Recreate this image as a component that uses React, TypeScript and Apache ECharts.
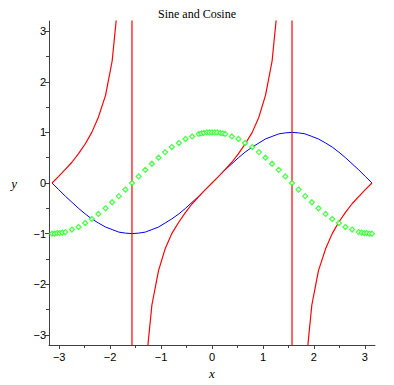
import React, { useEffect, useRef } from "react";
import * as echarts from "echarts";

const TITLE = "Sine and Cosine";

// shared sample positions (radians)
const xGrid = [
  -3.14, -3.01, -2.88, -2.75, -2.62, -2.49, -2.36, -2.23, -2.09, -1.96, -1.83, -1.70,
  -1.57, -1.44, -1.31, -1.18, -1.05, -0.92, -0.79, -0.65, -0.52, -0.39, -0.26, -0.13,
  0, 0.13, 0.26, 0.39, 0.52, 0.65, 0.79, 0.92, 1.05, 1.18, 1.31, 1.44,
  1.57, 1.70, 1.83, 1.96, 2.09, 2.23, 2.36, 2.49, 2.62, 2.75, 2.88, 3.01, 3.14,
];

// blue curve (sine)
const sineY = [
  0, -0.13, -0.26, -0.38, -0.5, -0.61, -0.71, -0.79, -0.87, -0.92, -0.97, -0.99,
  -1.0, -0.99, -0.97, -0.92, -0.87, -0.79, -0.71, -0.61, -0.5, -0.38, -0.26, -0.13,
  0, 0.13, 0.26, 0.38, 0.5, 0.61, 0.71, 0.79, 0.87, 0.92, 0.97, 0.99,
  1.0, 0.99, 0.97, 0.92, 0.87, 0.79, 0.71, 0.61, 0.5, 0.38, 0.26, 0.13, 0,
];

// red curve (tangent), including the jumps across the asymptotes
const tanX = [
  -3.14, -3.01, -2.88, -2.75, -2.62, -2.49, -2.36, -2.23, -2.09, -1.96, -1.83, -1.70, -1.575,
  -1.567, -1.44, -1.31, -1.18, -1.05, -0.92, -0.79, -0.65, -0.52, -0.39, -0.26, -0.13,
  0, 0.13, 0.26, 0.39, 0.52, 0.65, 0.79, 0.92, 1.05, 1.18, 1.31, 1.44, 1.567,
  1.575, 1.70, 1.83, 1.96, 2.09, 2.23, 2.36, 2.49, 2.62, 2.75, 2.88, 3.01, 3.14,
];
const tanY = [
  0, 0.13, 0.27, 0.41, 0.58, 0.77, 1.0, 1.3, 1.73, 2.41, 3.73, 7.6, 250,
  -250, -7.6, -3.73, -2.41, -1.73, -1.3, -1.0, -0.77, -0.58, -0.41, -0.27, -0.13,
  0, 0.13, 0.27, 0.41, 0.58, 0.77, 1.0, 1.3, 1.73, 2.41, 3.73, 7.6, 250,
  -250, -7.6, -3.73, -2.41, -1.73, -1.3, -1.0, -0.77, -0.58, -0.41, -0.27, -0.13, 0,
];

// green points (cosine)
const cosX = [
  -3.14, -3.09, -3.04, -2.99, -2.94, -2.88, -2.75, -2.62, -2.49, -2.36, -2.23, -2.09,
  -1.96, -1.83, -1.70, -1.57, -1.44, -1.31, -1.18, -1.05, -0.92, -0.79, -0.65, -0.52,
  -0.39, -0.26, -0.21, -0.16, -0.10, -0.05, 0, 0.05, 0.10, 0.16, 0.21, 0.26,
  0.39, 0.52, 0.65, 0.79, 0.92, 1.05, 1.18, 1.31, 1.44, 1.57, 1.70, 1.83,
  1.96, 2.09, 2.23, 2.36, 2.49, 2.62, 2.75, 2.88, 2.94, 2.99, 3.04, 3.09, 3.14,
];
const cosY = [
  -1.0, -1.0, -0.99, -0.99, -0.98, -0.97, -0.92, -0.87, -0.79, -0.71, -0.61, -0.5,
  -0.38, -0.26, -0.13, 0, 0.13, 0.26, 0.38, 0.5, 0.61, 0.71, 0.79, 0.87,
  0.92, 0.97, 0.98, 0.99, 1.0, 1.0, 1.0, 1.0, 1.0, 0.99, 0.98, 0.97,
  0.92, 0.87, 0.79, 0.71, 0.61, 0.5, 0.38, 0.26, 0.13, 0, -0.13, -0.26,
  -0.38, -0.5, -0.61, -0.71, -0.79, -0.87, -0.92, -0.97, -0.98, -0.99, -0.99, -1.0, -1.0,
];

const xTicks = [-3, -2, -1, 0, 1, 2, 3];
const yTicks = [-3, -2, -1, 0, 1, 2, 3];
const minorTicks = [-2.5, -1.5, -0.5, 0.5, 1.5, 2.5];

const fmt = (v: number) => (v < 0 ? "\u2212" + Math.abs(v) : String(v));

export default function App() {
  const ref = useRef<HTMLDivElement>(null);
  useEffect(() => {
    document.body.style.margin = "0";
    const chart = echarts.init(ref.current!, null, { renderer: "svg" });
    const axisColor = "#404040";
    const labelStyle = {
      fontFamily: "Liberation Sans",
      fontSize: 11,
      color: "#000",
    };
    const nameStyle = {
      fontFamily: "Liberation Serif",
      fontStyle: "italic" as const,
      fontSize: 13,
      color: "#000",
    };
    const baseX = {
      type: "value" as const,
      min: -3.2,
      max: 3.2,
      position: "bottom" as const,
      splitLine: { show: false },
    };
    const baseY = {
      type: "value" as const,
      min: -3.2,
      max: 3.2,
      position: "left" as const,
      splitLine: { show: false },
    };
    chart.setOption({
      animation: false,
      title: {
        text: TITLE,
        left: "center",
        top: 3,
        textStyle: {
          fontFamily: "Liberation Serif",
          fontSize: 12,
          fontWeight: "normal",
          color: "#000",
        },
      },
      grid: { left: 49, right: 19, top: 21, bottom: 37 },
      xAxis: [
        {
          ...baseX,
          name: "x",
          nameLocation: "middle",
          nameGap: 22,
          nameTextStyle: nameStyle,
          axisLine: { show: true, onZero: false, lineStyle: { color: axisColor, width: 1 } },
          axisTick: { show: true, length: 4, customValues: xTicks, lineStyle: { color: axisColor } },
          axisLabel: { show: true, customValues: xTicks, formatter: fmt, margin: 6, ...labelStyle },
        },
        {
          ...baseX,
          axisLine: { show: false, onZero: false },
          axisTick: { show: true, length: 3, customValues: minorTicks, lineStyle: { color: axisColor } },
          axisLabel: { show: false },
        },
      ],
      yAxis: [
        {
          ...baseY,
          name: "y",
          nameLocation: "middle",
          nameRotate: 0,
          nameGap: 32,
          nameTextStyle: nameStyle,
          axisLine: { show: true, onZero: false, lineStyle: { color: axisColor, width: 1 } },
          axisTick: { show: true, length: 4, customValues: yTicks, lineStyle: { color: axisColor } },
          axisLabel: { show: true, customValues: yTicks, formatter: fmt, margin: 3, ...labelStyle },
        },
        {
          ...baseY,
          axisLine: { show: false, onZero: false },
          axisTick: { show: true, length: 3, customValues: minorTicks, lineStyle: { color: axisColor } },
          axisLabel: { show: false },
        },
      ],
      series: [
        {
          type: "line",
          data: xGrid.map((x, i) => [x, sineY[i]]),
          showSymbol: false,
          clip: true,
          lineStyle: { color: "#0000ff", width: 1 },
          itemStyle: { color: "#0000ff" },
          z: 2,
        },
        {
          type: "line",
          data: tanX.map((x, i) => [x, tanY[i]]),
          showSymbol: false,
          clip: true,
          lineStyle: { color: "#ff0000", width: 1.2 },
          itemStyle: { color: "#ff0000" },
          z: 3,
        },
        {
          type: "scatter",
          data: cosX.map((x, i) => [x, cosY[i]]),
          symbol: "diamond",
          symbolSize: 5,
          clip: true,
          itemStyle: { color: "#ffffff", borderColor: "#22ff22", borderWidth: 1.3 },
          z: 4,
        },
      ],
    });
    return () => chart.dispose();
  }, []);
  return <div ref={ref} style={{ width: 394, height: 385 }} />;
}
